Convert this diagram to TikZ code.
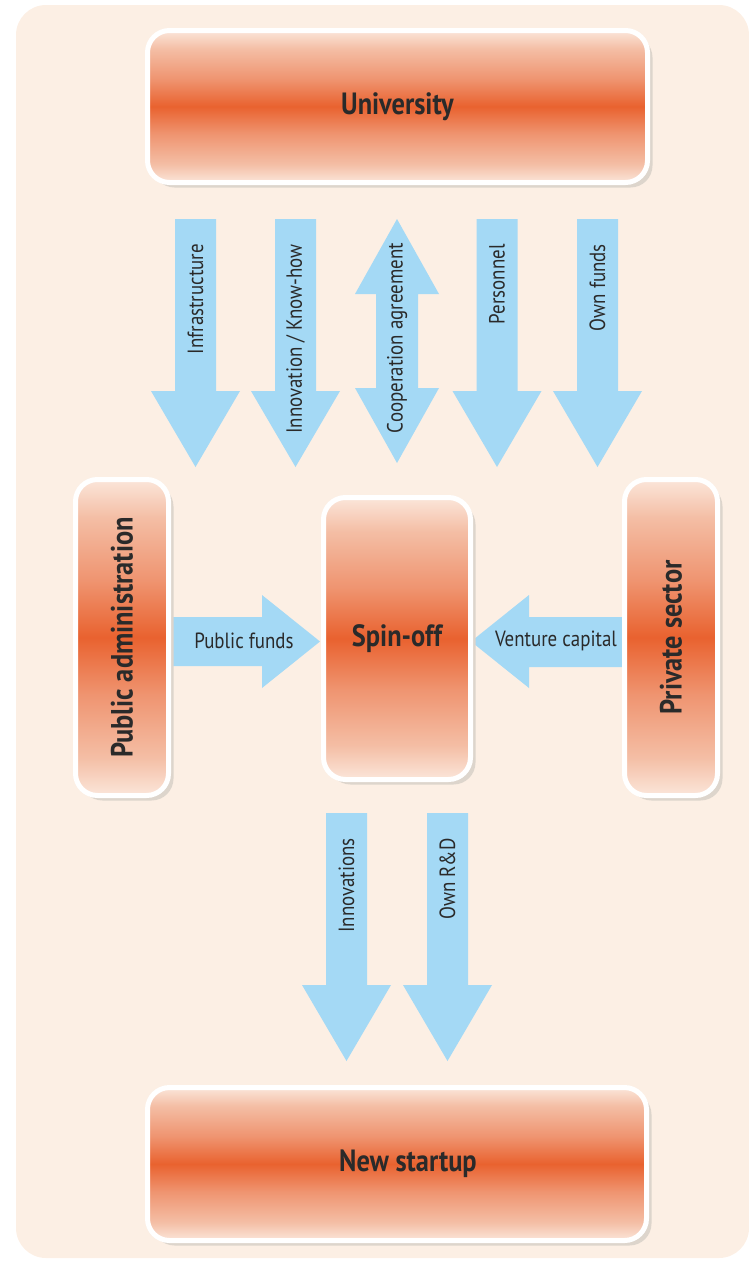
\documentclass[tikz,border=0pt]{standalone}
\usepackage{fontspec}
\usetikzlibrary{shadows}
\newfontfamily\ptn[FakeStretch=0.86]{PT Sans}
\definecolor{bgc}{HTML}{FCEFE4}
\definecolor{arrowc}{HTML}{A4D9F5}
\definecolor{shadowc}{HTML}{DDD5CC}
\definecolor{txtc}{HTML}{2A2A2A}
\definecolor{oc0}{HTML}{FBE6DA}
\definecolor{oc1}{HTML}{F4BEA5}
\definecolor{oc2}{HTML}{EF9470}
\definecolor{oc3}{HTML}{E9622F}
\pgfdeclareverticalshading{orangeband}{100bp}{color(0bp)=(oc0); color(25bp)=(oc0); color(31bp)=(oc1); color(41bp)=(oc2); color(50bp)=(oc3); color(59bp)=(oc2); color(69bp)=(oc1); color(75bp)=(oc0); color(100bp)=(oc0)}
\newcommand{\DnArrow}[5]{% cx, ytop, ybase, ytip, name
  \fill[arrowc] ({#1-20.5},#2) -- ({#1+20.5},#2) -- ({#1+20.5},#3) -- ({#1+44.5},#3)
     -- (#1,#4) coordinate (#5) -- ({#1-44.5},#3) -- ({#1-20.5},#3) -- cycle;}
\tikzset{
  box/.style={draw=white, line width=5pt, rounded corners=22pt, shade, shading=orangeband,
    drop shadow={fill=shadowc, opacity=1, shadow xshift=5pt, shadow yshift=-5pt},
    text=txtc, font=\ptn\bfseries\fontsize{30.7}{33}\selectfont, inner sep=0pt},
  lab/.style={text=txtc, font=\ptn\fontsize{22}{24}\selectfont, inner sep=0pt},
  vlab/.style={lab, rotate=90, anchor=east}
}
\begin{document}
\begin{tikzpicture}[x=1pt,y=-1pt]
\useasboundingbox (0,0) rectangle (749,1261);
\fill[bgc, rounded corners=30pt] (16,5) rectangle (749,1258);
% top arrows
\DnArrow{195.5}{219}{391}{467}{t1}
\DnArrow{295.5}{219}{391}{467}{t2}
\DnArrow{497}{219}{391}{467}{t4}
\DnArrow{597.5}{219}{391}{467}{t5}
\fill[arrowc] (397,219) coordinate (t3a) -- (439,294) -- (418,294) -- (418,388) -- (439,388)
  -- (397,463) coordinate (t3b) -- (355,388) -- (376,388) -- (376,294) -- (355,294) -- cycle;
\node[vlab] (l1) at (195.5,244) {Infrastructure};
\node[vlab] (l2) at (295.5,244) {Innovation / Know-how};
\node[vlab] (l3) at (397,243) {Cooperation agreement};
\node[vlab] (l4) at (497,244) {Personnel};
\node[vlab] (l5) at (597.5,244) {Own funds};
% bottom arrows
\DnArrow{346.5}{813}{985}{1061}{b1}
\DnArrow{447.5}{813}{985}{1061}{b2}
\node[vlab] (l6) at (346.5,838) {Innovations};
\node[vlab] (l7) at (447.5,838) {Own R\&D};
% horizontal arrows
\fill[arrowc] (166,617) -- (262,617) -- (262,595) -- (320,641.5) coordinate (hp) -- (262,688) -- (262,666) -- (166,666) -- cycle;
\fill[arrowc] (625,617) -- (529,617) -- (529,595) -- (471,641.5) coordinate (hv) -- (529,688) -- (529,667) -- (625,667) -- cycle;
\node[lab] (l8) at (244,641) {Public funds};
\node[lab] (l9) at (556,641) {Venture capital};
% boxes
\node[box, minimum width=500pt, minimum height=152pt] (uni) at (397.5,106.5) {University};
\node[box, minimum width=499pt, minimum height=153pt] (start) at (397,1164) {\hspace*{22pt}New startup};
\node[box, minimum width=93pt, minimum height=316pt] (pub) at (122,637.5) {\rotatebox{90}{Public administration}};
\node[box, minimum width=147pt, minimum height=282pt] (spin) at (397,638.5) {\raisebox{-3pt}{Spin-off}};
\node[box, minimum width=93pt, minimum height=316pt] (priv) at (671,637.5) {\rotatebox{90}{Private sector}};
\end{tikzpicture}
\end{document}
